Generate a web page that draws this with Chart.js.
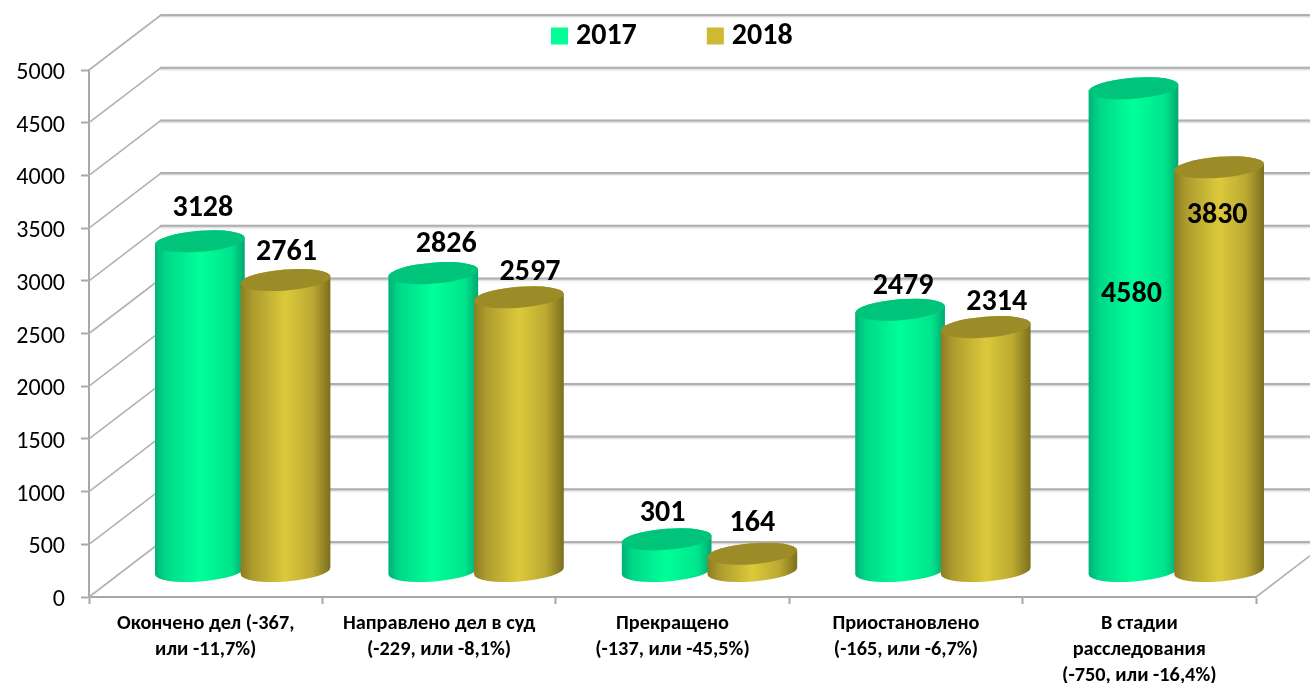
<!DOCTYPE html>
<html><head><meta charset="utf-8">
<style>html,body{margin:0;padding:0;background:#fff}canvas{display:block}</style>
<script src="https://cdn.jsdelivr.net/npm/chart.js@4"></script>
</head><body><canvas id="c" width="1310" height="683"></canvas>
<script>
const categories = [
  ["Окончено дел (-367,", "или -11,7%)"],
  ["Направлено дел в суд", "(-229, или -8,1%)"],
  ["Прекращено", "(-137, или -45,5%)"],
  ["Приостановлено", "(-165, или -6,7%)"],
  ["В стадии", "расследования", "(-750, или -16,4%)"]
];
const seriesNames = ["2017", "2018"];
const values2017 = [3128, 2826, 301, 2479, 4580];
const values2018 = [2761, 2597, 164, 2314, 3830];
const yTicksMax = 5000, yTickStep = 500;
// hand-placed label offsets from the top centre of each cylinder
const labelOffsets2017 = [[3,-33],[13,-29],[-4,-26],[3,-23],[-2,206]];
const labelOffsets2018 = [[1,-27],[11,-25],[0,-30],[11,-25],[-2,48]];

const FONT = '"Carlito","Lato","Noto Sans",sans-serif';
const DEPTH = {x:72, y:-55};
const TILT = -4.5 * Math.PI/180, RY = 10.5;
const palette = [
  {legend:'#00FF99', top:'#00C47A', stops:[[0,'#00B078'],[.12,'#00D888'],[.5,'#00FF99'],[.85,'#00E48C'],[1,'#00A870']]},
  {legend:'#CDB932', top:'#9C8C28', stops:[[0,'#8C7C22'],[.14,'#AD9C2E'],[.5,'#DCC93A'],[.8,'#BBA932'],[1,'#7C6E1E']]}
];

function cylinder(ctx, cx, topY, baseY, rx, pal){
  const g = ctx.createLinearGradient(cx-rx,0,cx+rx,0);
  pal.stops.forEach(s=>g.addColorStop(s[0],s[1]));
  ctx.beginPath();
  ctx.ellipse(cx,baseY,rx,RY,TILT,0,Math.PI,false);
  ctx.ellipse(cx,topY,rx,RY,TILT,Math.PI,2*Math.PI,false);
  ctx.closePath();
  ctx.fillStyle=g; ctx.fill();
  ctx.beginPath();
  ctx.ellipse(cx,topY,rx,RY,TILT,0,2*Math.PI);
  ctx.fillStyle=pal.top; ctx.fill();
}

const scene3d = {
  id:'scene3d',
  beforeLayout(chart){
    const lg = chart.legend;
    if(lg && !lg._patched){
      lg._patched = true;
      const fit = lg.fit;
      lg.fit = function(){ fit.call(this); this.height = 1; };
    }
  },
  afterLayout(chart){
    const lg = chart.legend, p = lg.options.labels.padding;
    lg.left = 558 - p; lg.right = 1310; lg.top = 21 - p;
  },
  beforeDatasetsDraw(chart){
    const {ctx, scales:{x,y}} = chart;
    ctx.save();
    ctx.lineCap='round';
    y.ticks.forEach(t=>{
      const py = y.getPixelForValue(t.value);
      ctx.strokeStyle='#b2b2b2'; ctx.lineWidth=1.6;
      ctx.beginPath(); ctx.moveTo(x.left,py); ctx.lineTo(x.left+DEPTH.x,py+DEPTH.y); ctx.stroke();
      ctx.save();
      ctx.shadowColor='rgba(0,0,0,.22)'; ctx.shadowBlur=2; ctx.shadowOffsetY=1;
      ctx.strokeStyle='#b0b0b0'; ctx.lineWidth=2;
      ctx.beginPath(); ctx.moveTo(x.left+DEPTH.x,py+DEPTH.y); ctx.lineTo(x.right+DEPTH.x,py+DEPTH.y); ctx.stroke();
      ctx.restore();
    });
    const y0 = y.getPixelForValue(0);
    ctx.strokeStyle='#b2b2b2'; ctx.lineWidth=1.6;
    ctx.beginPath(); ctx.moveTo(x.right,y0); ctx.lineTo(x.right+DEPTH.x,y0+DEPTH.y); ctx.stroke();
    ctx.restore();
  },
  beforeDatasetDraw(){ return false; },
  afterDatasetsDraw(chart){
    const ctx = chart.ctx;
    const m0 = chart.getDatasetMeta(0).data, m1 = chart.getDatasetMeta(1).data;
    const dx = DEPTH.x/2 + 1, topDy = DEPTH.y/2 + 1.5, baseDy = DEPTH.y/2 + 2;
    ctx.save();
    m0.forEach((_,i)=>{
      [m0[i],m1[i]].forEach((b,k)=>{
        cylinder(ctx,b.x+dx,b.y+topDy,b.base+baseDy,45,palette[k]);
      });
    });
    ctx.fillStyle='#000';
    ctx.font='bold 30px '+FONT;
    ctx.textAlign='center'; ctx.textBaseline='middle';
    m0.forEach((_,i)=>{
      [[m0[i],values2017[i],labelOffsets2017[i]],[m1[i],values2018[i],labelOffsets2018[i]]].forEach(([b,v,o])=>{
        ctx.fillText(String(v),b.x+dx+o[0],b.y+topDy+o[1]);
      });
    });
    ctx.restore();
  }
};

new Chart(document.getElementById('c'),{
  type:'bar',
  data:{labels:categories,datasets:[
    {label:seriesNames[0],data:values2017,backgroundColor:palette[0].legend,borderWidth:0},
    {label:seriesNames[1],data:values2018,backgroundColor:palette[1].legend,borderWidth:0}
  ]},
  options:{
    responsive:false,animation:false,
    layout:{padding:{top:69,right:54,left:0,bottom:0}},
    datasets:{bar:{categoryPercentage:.734,barPercentage:1}},
    plugins:{
      tooltip:{enabled:false},
      legend:{
        display:true,position:'top',align:'start',
        labels:{usePointStyle:true,pointStyle:'rect',boxWidth:3,boxHeight:17,padding:77,color:'#000',font:{family:FONT,size:30,weight:'bold'}}
      }
    },
    scales:{
      x:{
        grid:{display:true,drawOnChartArea:false,drawTicks:true,tickLength:7,tickWidth:2,color:'#a8a8a8',offset:true},
        border:{display:true,color:'#a8a8a8',width:2},
        ticks:{color:'#000',font:{family:FONT,size:20.3,weight:'bold',lineHeight:1.28},padding:7,maxRotation:0,autoSkip:false},
        afterFit(s){s.height=86;}
      },
      y:{
        min:0,max:yTicksMax,
        grid:{display:true,drawOnChartArea:false,drawTicks:true,tickLength:8,tickWidth:2,color:'#a8a8a8'},
        border:{display:true,color:'#a8a8a8',width:2},
        ticks:{stepSize:yTickStep,color:'#000',font:{family:FONT,size:24},padding:16,labelOffset:3,callback:v=>String(v)},
        afterFit(s){s.width=89;}
      }
    }
  },
  plugins:[scene3d]
});
</script></body></html>
